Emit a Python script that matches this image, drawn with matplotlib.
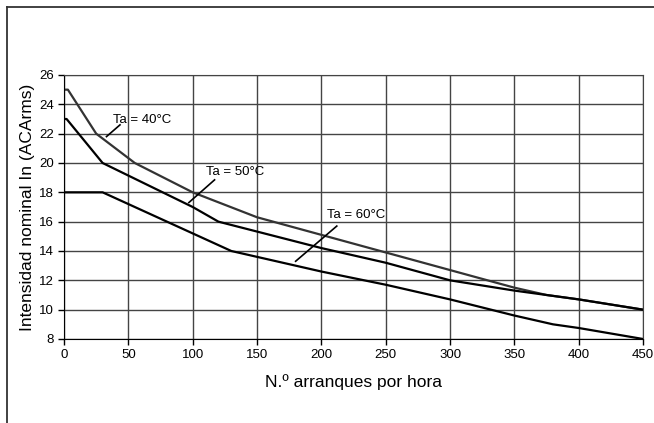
import matplotlib
matplotlib.use("Agg")
import matplotlib.pyplot as plt
from matplotlib.lines import Line2D

plt.rcParams['font.family'] = ['Liberation Sans', 'DejaVu Sans']

# curves: starts per hour vs rated current
x40 = [0, 3, 25, 55, 100, 150, 200, 250, 300, 350, 375, 400, 450]
y40 = [25, 25, 22, 20, 18, 16.3, 15.1, 13.9, 12.7, 11.5, 11.0, 10.7, 10]

x50 = [0, 2, 30, 100, 120, 200, 250, 300, 350, 400, 450]
y50 = [23, 23, 20, 17, 16, 14.2, 13.2, 12.0, 11.3, 10.7, 10]

x60 = [0, 30, 130, 200, 250, 300, 350, 380, 400, 450]
y60 = [18, 18, 14, 12.6, 11.7, 10.7, 9.6, 9.0, 8.75, 8]

labels = ['Ta = 40°C', 'Ta = 50°C', 'Ta = 60°C']
label_pos = [(38, 22.9), (110, 19.4), (204, 16.45)]
leaders = [((33, 21.8), (43.5, 22.6)), ((97, 17.3), (117, 18.85)), ((180, 13.3), (212, 15.7))]

xticks = list(range(0, 451, 50))
yticks = list(range(8, 27, 2))

fig = plt.figure(figsize=(6.54, 4.23), dpi=100)
ax = fig.add_axes([0.0979, 0.1986, 0.8853, 0.6241])

ax.plot(x40, y40, color='#333333', lw=1.6)
ax.plot(x50, y50, color='black', lw=1.6)
ax.plot(x60, y60, color='black', lw=1.6)

for lab, pos, ld in zip(labels, label_pos, leaders):
    ax.text(pos[0], pos[1], lab, fontsize=9.5, va='center', ha='left')
    ax.plot([ld[0][0], ld[1][0]], [ld[0][1], ld[1][1]], color='black', lw=1.2)

ax.set_xlim(0, 450)
ax.set_ylim(8, 26)
ax.set_xticks(xticks)
ax.set_yticks(yticks)
ax.grid(True, color='#444444', lw=1)
ax.set_axisbelow(True)
for s in ax.spines.values():
    s.set_color('#444444')
ax.spines['left'].set_color('black')
ax.spines['bottom'].set_color('black')
ax.tick_params(direction='out', length=4, labelsize=9.5, width=1)

ax.set_xlabel('N.º arranques por hora', fontsize=12.5, labelpad=9)
ax.set_ylabel('Intensidad nominal In (ACArms)', fontsize=12.5, labelpad=3)

# outer frame (top and left only)
fig.add_artist(Line2D([7 / 654, 1], [1 - 7 / 423, 1 - 7 / 423], transform=fig.transFigure, color='#333333', lw=1.3))
fig.add_artist(Line2D([7 / 654, 7 / 654], [0, 1 - 7 / 423], transform=fig.transFigure, color='#333333', lw=1.3))

fig.savefig('out.png', dpi=100)
